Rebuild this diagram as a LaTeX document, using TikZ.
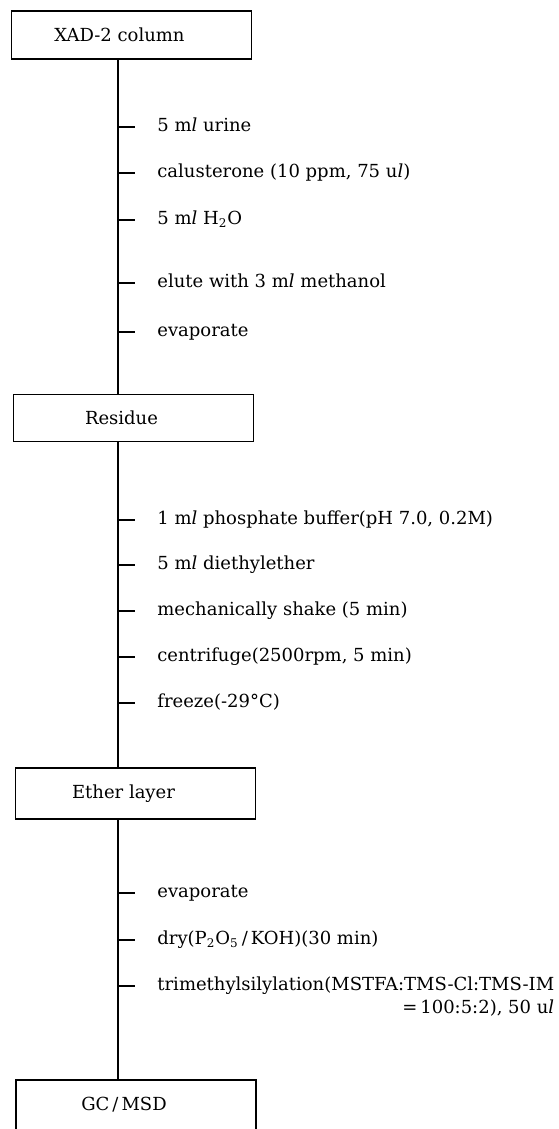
\documentclass[tikz,border=0pt]{standalone}
\usepackage{fontspec}
\setmainfont{DejaVu Serif}
\usepackage{tikz}

\begin{document}
\begin{tikzpicture}[
        x=0.5pt, y=-0.5pt,
        box/.style={rectangle, draw=black, line width=0.8pt, minimum width=120pt, minimum height=25pt, inner sep=0pt},
        boxtext/.style={font=\fontsize{9}{11.5}\selectfont, xshift=-6pt},
        task/.style={anchor=base west, inner sep=0pt, font=\fontsize{9}{11.5}\selectfont},
        spine/.style={line width=0.8pt},
        tick/.style={line width=0.8pt}
    ]
    \useasboundingbox (0,0) rectangle (558,1129);
    \clip (0,0) rectangle (558,1129);

    % sample stages
    \node[box, minimum height=24pt, label={[boxtext]center:XAD-2 column}] (xad) at (131.5,35) {};
    \node[box, minimum height=23.5pt, label={[boxtext]center:Residue}] (residue) at (133.5,418) {};
    \node[box, minimum height=25.5pt, label={[boxtext]center:Ether layer}] (ether) at (135.5,793.5) {};
    \node[box, label={[boxtext]center:GC\,/\,MSD}] (gcmsd) at (136,1105) {};

    \coordinate (axis) at (118,0);

    % column clean-up
    \node[task] (urine) at (157,131.5) {5 m\textit{l} urine};
    \node[task] (istd) at (157,177.5) {calusterone (10 ppm, 75 u\textit{l})};
    \node[task] (wash) at (157,224.5) {5 m\textit{l} H\textsubscript{2}O};
    \node[task] (elute) at (157,287.5) {elute with 3 m\textit{l} methanol};
    \node[task] (evapA) at (157,336.5) {evaporate};

    % extraction
    \node[task] (buffer) at (157,524.5) {1 m\textit{l} phosphate buffer(pH 7.0, 0.2M)};
    \node[task] (ether1) at (157,569.5) {5 m\textit{l} diethylether};
    \node[task] (shake) at (157,615.5) {mechanically shake (5 min)};
    \node[task] (spin) at (157,661.5) {centrifuge(2500rpm, 5 min)};
    \node[task] (freeze) at (157,707.5) {freeze(-29°C)};

    % derivatisation
    \node[task] (evapB) at (157,897.5) {evaporate};
    \node[task] (dry) at (157,944.5) {dry(P\textsubscript{2}O\textsubscript{5}\,/\,KOH)(30 min)};
    \node[task, align=right] (tms) at (157,1013.5) {trimethylsilylation(MSTFA:TMS-Cl:TMS-IM\\ =\,100:5:2), 50 u\textit{l}};

    \draw[spine] (xad.south -| axis) -- (residue.north -| axis);
    \draw[spine] (residue.south -| axis) -- (ether.north -| axis);
    \draw[spine] (ether.south -| axis) -- (gcmsd.north -| axis);

    \foreach \t in {urine, istd, wash, elute, evapA, buffer, ether1, shake, spin, freeze, evapB, dry}
        \draw[tick] (\t.base west) ++(-38,-4.5) -- ++(16,0);
    \draw[tick] (tms.base west) ++(-38,-27.5) -- ++(16,0);

\end{tikzpicture}
\end{document}
